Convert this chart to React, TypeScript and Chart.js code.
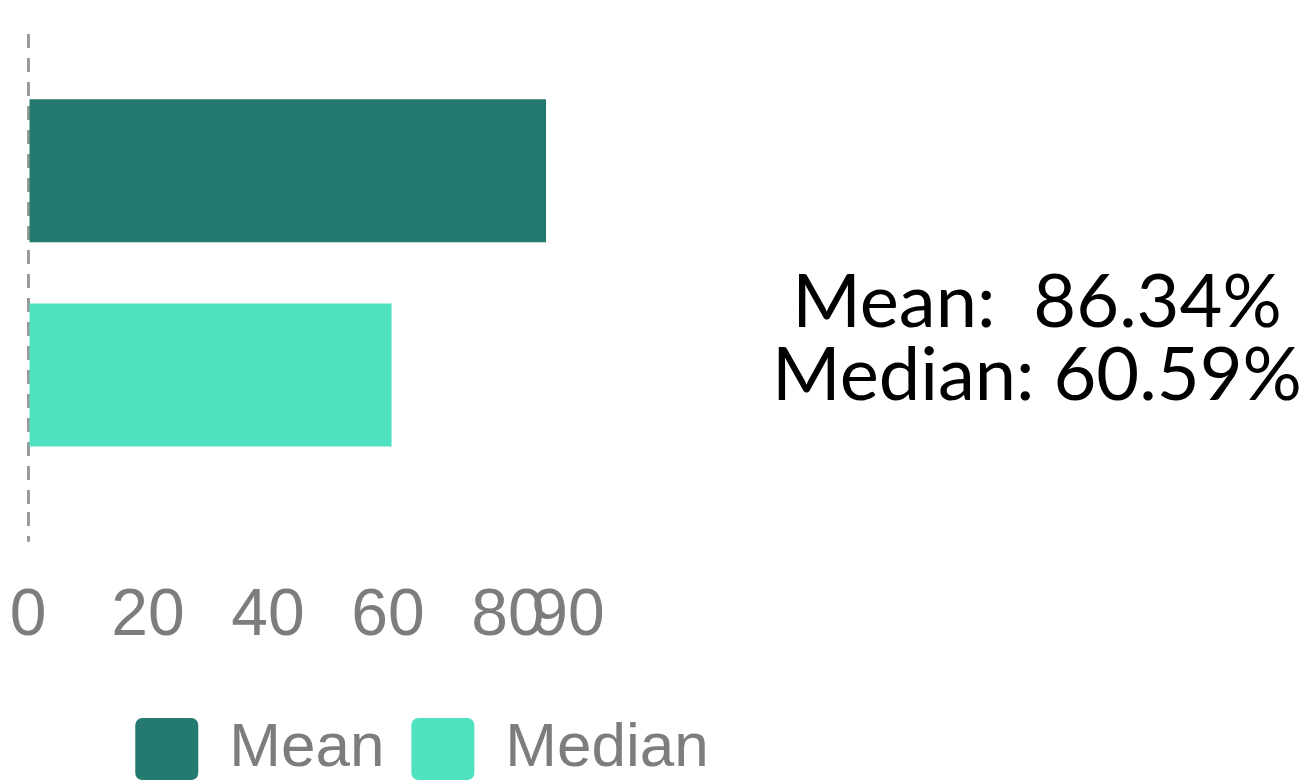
import { useEffect, useRef } from "react";
import { Chart, registerables } from "chart.js";

Chart.register(...registerables);

const categories = [""];
const seriesNames = ["Mean", "Median"];
const meanValues = [86.34];
const medianValues = [60.59];
const seriesColors = ["#247a6f", "#4ee2c1"];
const xTicks = [0, 20, 40, 60, 80, 90];
const summaryLines = ["Mean:  86.34%", "Median: 60.59%"];

const PAGE_W = 1313;
const PAGE_H = 782;

export default function App() {
  const canvasRef = useRef<HTMLCanvasElement | null>(null);

  useEffect(() => {
    if (!canvasRef.current) return;
    const chart = new Chart(canvasRef.current, {
      type: "bar",
      data: {
        labels: categories,
        datasets: [
          {
            label: seriesNames[0],
            data: meanValues,
            backgroundColor: seriesColors[0],
            categoryPercentage: 0.855,
            barPercentage: 0.7,
          },
          {
            label: seriesNames[1],
            data: medianValues,
            backgroundColor: seriesColors[1],
            categoryPercentage: 0.855,
            barPercentage: 0.7,
          },
        ],
      },
      options: {
        indexAxis: "y",
        animation: false,
        responsive: true,
        maintainAspectRatio: false,
        layout: { padding: { left: 0, right: 0, top: 34, bottom: 0 } },
        plugins: {
          tooltip: { enabled: false },
          legend: {
            position: "bottom",
            labels: {
              color: "#7d7d7d",
              font: { family: "'Liberation Sans', Arial, sans-serif", size: 62 },
              boxWidth: 63,
              padding: 27,
              useBorderRadius: true,
              borderRadius: 7,
            },
          },
        },
        scales: {
          x: {
            min: 0,
            max: 90,
            afterBuildTicks: (axis: any) => {
              axis.ticks = xTicks.map((v) => ({ value: v }));
            },
            afterFit: (axis: any) => {
              axis.paddingLeft = 28;
              axis.paddingRight = 276;
            },
            grid: {
              display: true,
              drawOnChartArea: true,
              drawTicks: true,
              tickLength: 30,
              lineWidth: 3,
              color: (ctx: any) => (ctx.tick && ctx.tick.value === 0 ? "#9a9a9a" : "rgba(0,0,0,0)"),
              tickBorderDash: [14, 10],
            },
            border: { display: false, dash: [14, 10] },
            ticks: {
              color: "#7d7d7d",
              font: { family: "'Liberation Sans', Arial, sans-serif", size: 66 },
              padding: 35,
              autoSkip: false,
              maxRotation: 0,
            },
          },
          y: {
            grid: { display: false, drawTicks: false },
            border: { display: false },
            ticks: { display: false },
          },
        },
      },
    });
    return () => chart.destroy();
  }, []);

  return (
    <div
      style={{
        position: "fixed",
        left: 0,
        top: 0,
        width: PAGE_W,
        height: PAGE_H,
        overflow: "hidden",
        background: "#fff",
      }}
    >
      <div style={{ position: "absolute", left: 0, top: 0, width: 844, height: 790 }}>
        <canvas ref={canvasRef} />
      </div>
      <div
        style={{
          position: "absolute",
          left: 760,
          width: 554,
          top: 262,
          textAlign: "center",
          fontFamily: "Lato, sans-serif",
          fontSize: 74,
          lineHeight: "73px",
          color: "#000",
          whiteSpace: "pre",
        }}
      >
        {summaryLines.map((l, i) => (
          <div key={i}>{l}</div>
        ))}
      </div>
    </div>
  );
}
